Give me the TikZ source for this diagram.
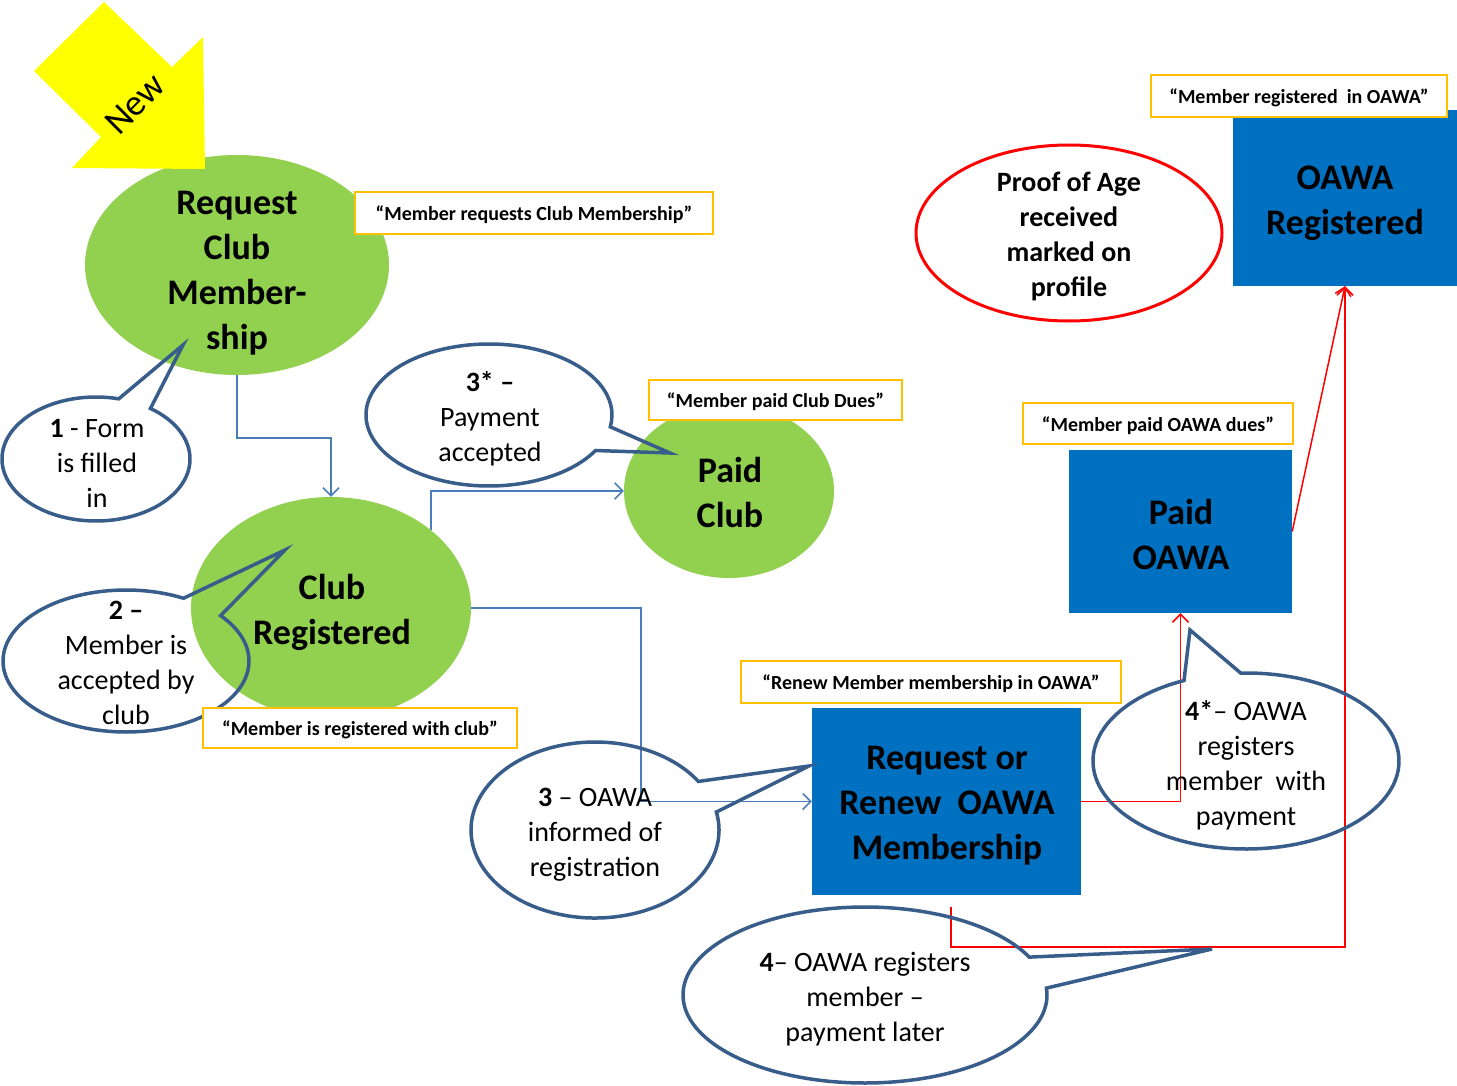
\documentclass[tikz,border=0pt]{standalone}
\usepackage{fontspec}
\setmainfont{Carlito}
\usetikzlibrary{arrows.meta,calc,shapes.geometric}
\definecolor{grn}{HTML}{92D050}
\definecolor{bbl}{HTML}{0070C0}
\definecolor{lblc}{HTML}{FFC000}
\definecolor{calc}{HTML}{385D8A}
\definecolor{conb}{HTML}{4A7EBB}
\definecolor{newy}{HTML}{FFFF00}
\newcommand{\dgBig}{\fontsize{36}{45}\selectfont\bfseries}
\newcommand{\dgMid}{\fontsize{28}{35}\selectfont\bfseries}
\newcommand{\dgCall}{\fontsize{28}{35}\selectfont}
\newcommand{\dgLbl}{\fontsize{20}{24}\selectfont\bfseries}
\begin{document}
\begin{tikzpicture}[x=1pt,y=1pt,yscale=-1,
  greenell/.style={ellipse, fill=grn, inner sep=0pt},
  bluebox/.style={rectangle, fill=bbl, inner sep=0pt},
  bigtxt/.style={align=center, font=\dgBig, inner sep=0pt},
  lbl/.style={rectangle, draw=lblc, line width=2.5pt, fill=white, inner sep=0pt, font=\dgLbl, text height=17.5pt, text depth=2pt},
  callout/.style={draw=calc, line width=3.5pt, line join=miter},
  ctext/.style={align=center, font=\dgCall, inner sep=0pt},
  bconn/.style={draw=conb, line width=1.5pt, -{Straight Barb[length=8pt,width=16pt]}},
  rconn/.style={draw=red, line width=1.5pt, -{Straight Barb[length=8pt,width=16pt]}}]
\useasboundingbox (0,0) rectangle (1457,1086);

% main shapes
\node[greenell, minimum width=304, minimum height=220] (req) at (237,265) {};
\node[bigtxt] (reqt) at (237,273) {Request\\Club\\Member-\\ship};
\node[greenell, minimum width=280, minimum height=222] (cr) at (331,608) {};
\node[bigtxt] (crt) at (332,612) {Club\\Registered};
\node[greenell, minimum width=210, minimum height=174] (pc) at (729,491) {};
\node[bigtxt] (pct) at (730,492) {Paid\\Club};
\node[bluebox, minimum width=269, minimum height=187] (rq) at (946.5,801.5) {};
\node[bigtxt] (rqt) at (947,806) {Request or\\Renew\ \ OAWA\\Membership};
\node[bluebox, minimum width=223, minimum height=163] (po) at (1180.5,531.5) {};
\node[bigtxt] (pot) at (1181,534) {Paid\\OAWA};
\node[bluebox, minimum width=224, minimum height=176] (or) at (1345,198) {};
\node[bigtxt] (ort) at (1345,203) {OAWA\\Registered};
\node[ellipse, draw=red, line width=3pt, fill=white, inner sep=0pt, minimum width=306, minimum height=176] (age) at (1069,233) {};
\node[align=center, font=\dgMid, inner sep=0pt] (aget) at (1069,236) {Proof of Age\\received\\marked on\\profile};

% "New" arrow
\fill[newy] (104,2) -- (172,67) -- (203,37) -- (205,169) -- (72,168) -- (101,137) -- (34,71) -- cycle;
\node[rotate=45, font=\fontsize{37}{40}\selectfont, inner sep=0pt] (newtxt) at (135,104) {New};

% connectors
\draw[bconn] (req.south) -- ++(0,63) -| (cr.north);
\draw[bconn] (cr.38) |- (pc.west);
\draw[bconn] (cr.east) -- ++(170,0) |- (rq.west);
\draw[rconn] (rq.east) -| (po.south);
\draw[rconn] (po.east) -- (or.south);
\coordinate (rqb) at ($(rq.south)+(4.5,12)$);
\draw[rconn] (rqb) -- ++(0,40) -| (or.south);

% callouts
\draw[callout] (96,459) ++(-54.6:94 and 62) arc[start angle=-54.6, end angle=284, x radius=94, y radius=62] -- (183,345) -- cycle;
\node[ctext] (c1) at (97,463) {\textbf{1} - Form\\is filled\\in};

\draw[callout] (126,661) ++(-39.7:123 and 71) arc[start angle=-39.7, end angle=297.9, x radius=123, y radius=71] -- (285,550) -- cycle;
\node[ctext] (c2) at (126,663) {\textbf{2 –}\\Member is\\accepted by\\club};

\draw[callout] (489,415) ++(30:123 and 71) arc[start angle=30, end angle=369.6, x radius=123, y radius=71] -- (670,453) -- cycle;
\node[ctext] (c3s) at (490,419) {\textbf{3* –}\\Payment\\accepted};

\draw[callout] (595,830) ++(-11.8:124 and 88) arc[start angle=-11.8, end angle=326.5, x radius=124, y radius=88] -- (809,766) -- cycle;
\node[ctext] (c3) at (595,835) {\textbf{3} – OAWA\\informed of\\registration};

\draw[callout] (1246,761) ++(268:153 and 88) arc[start angle=268, end angle=606.1, x radius=153, y radius=88] -- (1190,630) -- cycle;
\node[ctext] (c4s) at (1246,765) {\textbf{4*}– OAWA\\registers\\member\ \ with\\payment};

\draw[callout] (865,995) ++(-4.5:182 and 88) arc[start angle=-4.5, end angle=334.5, x radius=182, y radius=88] -- (1212,949) -- cycle;
\node[ctext] (c4) at (865,999) {\textbf{4}– OAWA registers\\member –\\payment later};

% labels
\node[lbl, minimum width=358, minimum height=42] (l1) at (534,213) {“Member requests Club Membership”};
\node[lbl, minimum width=253, minimum height=40] (l2) at (775.5,400) {“Member paid Club Dues”};
\node[lbl, minimum width=314, minimum height=40] (l3) at (360,728) {“Member is registered with club”};
\node[lbl, minimum width=380, minimum height=42] (l4) at (931,682) {“Renew Member membership in OAWA”};
\node[lbl, minimum width=270, minimum height=41] (l5) at (1158,423.5) {“Member paid OAWA dues”};
\node[lbl, minimum width=296, minimum height=42] (l6) at (1299,96) {“Member registered\ \ in OAWA”};
\end{tikzpicture}
\end{document}
